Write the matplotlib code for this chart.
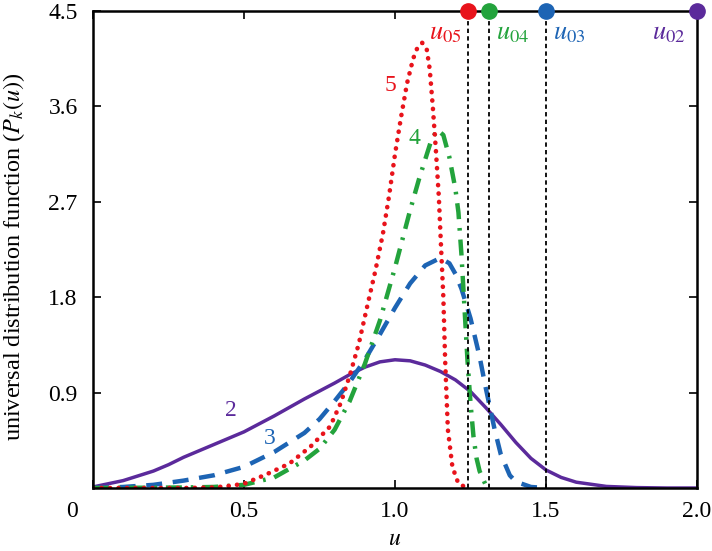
import matplotlib.pyplot as plt

plt.rcParams['font.family'] = ['Liberation Serif', 'DejaVu Serif']
plt.rcParams['mathtext.fontset'] = 'stix'

# curve values
u2 = [0.0, 0.1, 0.2, 0.25, 0.3, 0.35, 0.4, 0.5, 0.6, 0.7, 0.8, 0.85, 0.9, 0.95, 1.0,
      1.05, 1.1, 1.15, 1.2, 1.25, 1.3, 1.35, 1.4, 1.45, 1.5, 1.55, 1.6, 1.7, 1.8, 1.9, 2.0]
p2 = [0.01, 0.07, 0.16, 0.22, 0.29, 0.35, 0.41, 0.53, 0.68, 0.84, 0.99, 1.07, 1.14, 1.19, 1.21,
      1.2, 1.16, 1.1, 1.02, 0.91, 0.76, 0.6, 0.43, 0.28, 0.17, 0.1, 0.055, 0.015, 0.004, 0.0, 0.0]

u3 = [0.0, 0.1, 0.2, 0.3, 0.4, 0.5, 0.6, 0.7, 0.75, 0.8, 0.85, 0.9, 0.95, 1.0, 1.05,
      1.1, 1.15, 1.18, 1.2, 1.22, 1.25, 1.28, 1.3, 1.33, 1.35, 1.38, 1.4, 1.45, 1.5]
p3 = [0.0, 0.01, 0.03, 0.07, 0.12, 0.2, 0.34, 0.52, 0.65, 0.82, 1.0, 1.21, 1.45, 1.7, 1.93,
      2.1, 2.17, 2.12, 2.02, 1.88, 1.6, 1.24, 0.95, 0.55, 0.32, 0.12, 0.06, 0.01, 0.0]

u4 = [0.0, 0.3, 0.4, 0.5, 0.6, 0.7, 0.75, 0.8, 0.85, 0.9, 0.95, 1.0, 1.05, 1.08, 1.1, 1.12,
      1.14, 1.16, 1.18, 1.2, 1.21, 1.22, 1.23, 1.24, 1.25, 1.26, 1.27, 1.28, 1.3, 1.31]
p4 = [0.0, 0.005, 0.01, 0.03, 0.1, 0.26, 0.37, 0.55, 0.82, 1.17, 1.58, 2.08, 2.62, 2.92, 3.1, 3.28,
      3.38, 3.33, 3.12, 2.82, 2.6, 2.2, 1.7, 1.2, 0.8, 0.48, 0.28, 0.16, 0.03, 0.0]

u5 = [0.0, 0.3, 0.4, 0.45, 0.5, 0.575, 0.65, 0.72, 0.785, 0.82, 0.85, 0.88, 0.91, 0.935, 0.96,
      0.98, 1.0, 1.02, 1.04, 1.06, 1.075, 1.09, 1.105, 1.115, 1.125, 1.135, 1.145, 1.152, 1.16,
      1.166, 1.175, 1.19, 1.21, 1.24]
p5 = [0.0, 0.0, 0.005, 0.02, 0.04, 0.13, 0.23, 0.39, 0.58, 0.8, 1.06, 1.36, 1.74, 2.05, 2.4,
      2.75, 3.15, 3.5, 3.82, 4.05, 4.16, 4.2, 4.14, 3.95, 3.6, 3.2, 2.75, 2.3, 1.8,
      1.2, 0.55, 0.2, 0.04, 0.0]

u0 = [2.0, 1.5, 1.311, 1.242]
u0_names = ['$u_{02}$', '$u_{03}$', '$u_{04}$', '$u_{05}$']
colors = ['#5b2a9b', '#1d64b4', '#23a33c', '#e8131b']

fig = plt.figure(figsize=(7.12, 5.51), dpi=100)
ax = fig.add_axes([0.1306, 0.1143, 0.8484, 0.8657])

ax.plot(u2, p2, color=colors[0], lw=2.5, solid_capstyle='round')
ax.plot(u3, p3, color=colors[1], lw=3.2, dashes=(3.6, 2.4))
ax.plot(u4, p4, color=colors[2], lw=3.2, dashes=(3.6, 2.0, 0.6, 2.0))
ax.plot(u5, p5, color=colors[3], lw=3.3, dashes=(0.05, 1.8), dash_capstyle='round')

for u, c in zip(u0, colors):
    if u < 2.0:
        ax.plot([u, u], [0, 4.5], color='black', lw=1.3, dashes=(2.4, 1.8))
    ax.plot([u], [4.5], 'o', color=c, ms=11, clip_on=False, zorder=5)

# labels for the u0 markers
ax.text(1.852, 4.39, u0_names[0], color=colors[0], fontsize=19, va='top')
ax.text(1.522, 4.39, u0_names[1], color=colors[1], fontsize=19, va='top')
ax.text(1.333, 4.39, u0_names[2], color=colors[2], fontsize=19, va='top')
ax.text(1.22, 4.39, u0_names[3], color=colors[3], fontsize=19, va='top', ha='right')

# curve labels
ax.text(0.985, 3.8, '5', color=colors[3], fontsize=17, ha='center', va='center')
ax.text(1.065, 3.3, '4', color=colors[2], fontsize=17, ha='center', va='center')
ax.text(0.585, 0.47, '3', color=colors[1], fontsize=17, ha='center', va='center')
ax.text(0.455, 0.73, '2', color=colors[0], fontsize=17, ha='center', va='center')

ax.set_xlim(0, 2.0)
ax.set_ylim(0, 4.5)
ax.set_xticks([0, 0.5, 1.0, 1.5, 2.0])
ax.set_xticklabels(['', '0.5', '1.0', '1.5', '2.0'])
ax.set_yticks([0, 0.9, 1.8, 2.7, 3.6, 4.5])
ax.set_yticklabels(['', '0.9', '1.8', '2.7', '3.6', '4.5'])
ax.tick_params(direction='in', length=6, width=1.2, labelsize=17, top=True, right=True)
ax.tick_params(axis='x', pad=9)
ax.tick_params(axis='y', pad=11)
for s in ax.spines.values():
    s.set_linewidth(1.8)
ax.text(-0.07, -0.226, '0', fontsize=17, ha='center', va='center', transform=ax.transData,
        clip_on=False)

ax.set_xlabel('$u$', fontsize=17)
ax.xaxis.set_label_coords(0.5, -0.085)
ax.set_ylabel('universal distribution function ($P_k(u)$)', fontsize=17.5)
ax.yaxis.set_label_coords(-0.11, 0.484)

fig.savefig('out.png', dpi=100)
